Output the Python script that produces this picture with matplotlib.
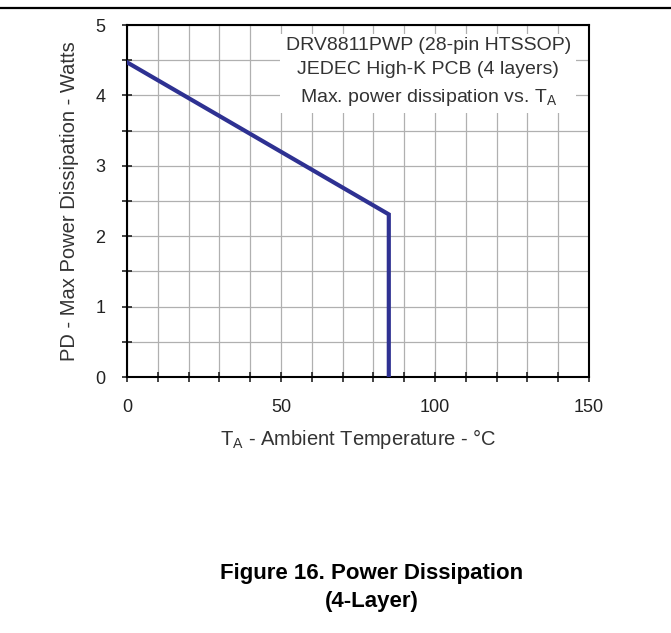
import numpy as np
import matplotlib.pyplot as plt
from matplotlib.ticker import MultipleLocator

plt.rcParams['font.family'] = ['Liberation Sans', 'DejaVu Sans']

# derating curve
temp = [0, 85, 85]
power = [4.47, 2.31, 0]

fig = plt.figure(figsize=(6.71, 6.33), dpi=100)
# rule across the top of the page
fig.add_artist(plt.Line2D([0, 1], [1 - 8 / 633, 1 - 8 / 633], color='black', lw=1.6))

ax = fig.add_axes([127 / 671, 1 - 377 / 633, (589 - 127) / 671, (377 - 25) / 633])
ax.set_xlim(0, 150)
ax.set_ylim(0, 5)
ax.xaxis.set_major_locator(MultipleLocator(50))
ax.xaxis.set_minor_locator(MultipleLocator(10))
ax.yaxis.set_major_locator(MultipleLocator(1))
ax.yaxis.set_minor_locator(MultipleLocator(0.5))
ax.grid(which='both', color='#b0b0b0', lw=0.9)
ax.set_axisbelow(True)
for s in ax.spines.values():
    s.set_linewidth(1.5)
ax.tick_params(which='both', direction='inout', length=7, width=1.2, labelsize=13, colors='#222222')
ax.tick_params(axis='x', pad=12)
ax.tick_params(axis='y', pad=12)

ax.plot(temp, power, color='#2e3192', lw=3, solid_joinstyle='miter', zorder=3)

ax.text(0.652, 0.965, 'DRV8811PWP (28-pin HTSSOP)\nJEDEC High-K PCB (4 layers)\nMax. power dissipation vs. T$_\\mathregular{A}$',
        transform=ax.transAxes, ha='center', va='top', fontsize=14, color='#333333',
        linespacing=1.55, multialignment='center',
        bbox=dict(facecolor='white', edgecolor='none', pad=4), zorder=2)

ax.set_xlabel('T$_\\mathregular{A}$ - Ambient Temperature - °C', fontsize=14.5, color='#333333', labelpad=8)
ax.set_ylabel('PD - Max Power Dissipation - Watts', fontsize=14.5, color='#333333', labelpad=12)

fig.text(372 / 671, 1 - 574 / 633, 'Figure 16. Power Dissipation', ha='center', va='center',
         fontsize=16, fontweight='bold')
fig.text(372 / 671, 1 - 602 / 633, '(4-Layer)', ha='center', va='center',
         fontsize=16, fontweight='bold')

fig.savefig('out.png', dpi=100)
